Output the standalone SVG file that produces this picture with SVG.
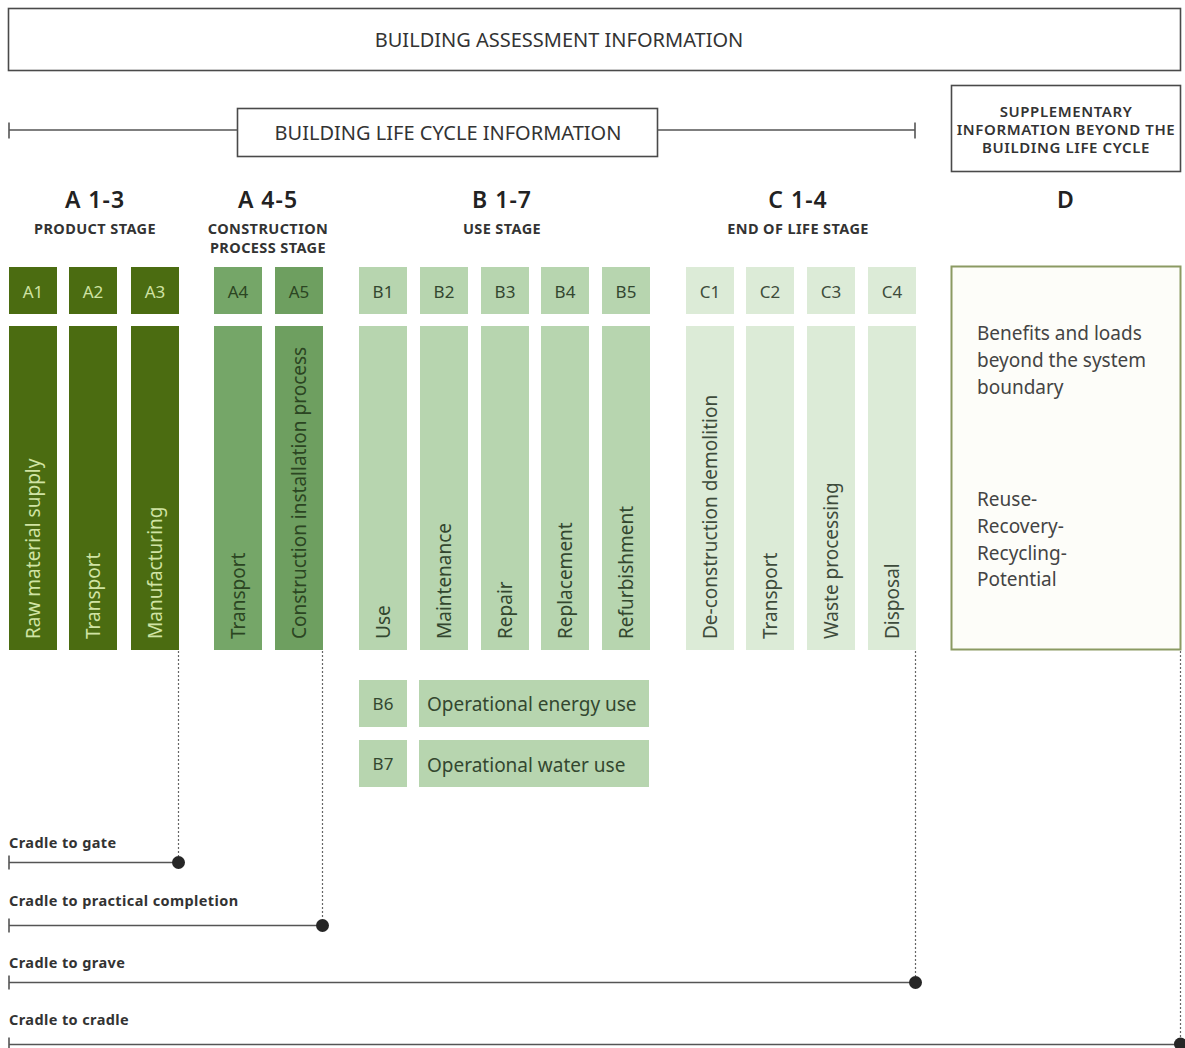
<svg xmlns="http://www.w3.org/2000/svg" width="1185" height="1048" viewBox="0 0 1185 1048">
<style>
.frame{fill:#fff;stroke:#4a4a4a;stroke-width:1.6}
.hdr{font-family:"Noto Sans",sans-serif;fill:#333;text-anchor:middle;font-size:20px}
.stg{font-family:"Noto Sans",sans-serif;font-weight:600;fill:#222;text-anchor:middle;font-size:23px;letter-spacing:1px}
.sub{font-family:"Noto Sans",sans-serif;font-weight:700;fill:#333;text-anchor:middle;font-size:14.5px;letter-spacing:0.4px}
.sup{font-family:"Noto Sans",sans-serif;font-weight:600;fill:#333;text-anchor:middle;font-size:15px;letter-spacing:0.6px}
.dk{fill:#4b6c11}
.md4{fill:#75a668}
.md5{fill:#6e9f60}
.lt{fill:#b7d5af}
.vl{fill:#dcebd7}
.lbl{font-family:"Noto Sans",sans-serif;font-size:17px;text-anchor:middle;dominant-baseline:central}
.vt{font-family:"Noto Sans",sans-serif;font-size:19px;dominant-baseline:central}
.tl{fill:#d0e3a3}
.td{fill:#2b4522}
.tb{fill:#33472f}
.tc{fill:#3e4b3b}
.body{font-family:"Noto Sans",sans-serif;font-size:19px;fill:#444}
.cr{font-family:"Noto Sans",sans-serif;font-size:14.5px;font-weight:700;fill:#333;letter-spacing:0.4px}
.ln{stroke:#555;stroke-width:1.6;fill:none}
.dot{stroke:#666;stroke-width:1.2;stroke-dasharray:2 2;fill:none}
.end{fill:#262626}
</style>

<g id="assessment">
<rect class="frame" x="8.5" y="8.5" width="1172" height="62"/>
<text class="hdr" x="559" y="47">BUILDING ASSESSMENT INFORMATION</text>
</g>

<g id="lifecycle">
<rect class="frame" x="237.5" y="108.5" width="420" height="48"/>
<text class="hdr" x="448" y="140" font-size="20.5">BUILDING LIFE CYCLE INFORMATION</text>
</g>

<g id="supplementary">
<rect class="frame" x="951.5" y="85.5" width="229" height="86"/>
<text class="sup" x="1066" y="117">SUPPLEMENTARY</text>
<text class="sup" x="1066" y="135">INFORMATION BEYOND THE</text>
<text class="sup" x="1066" y="153">BUILDING LIFE CYCLE</text>
</g>

<g id="stage-a13">
<text class="stg" x="95" y="208">A 1-3</text>
<text class="sub" x="95" y="234">PRODUCT STAGE</text>
</g>
<g id="stage-a45">
<text class="stg" x="268" y="208">A 4-5</text>
<text class="sub" x="268" y="234">CONSTRUCTION</text>
<text class="sub" x="268" y="253">PROCESS STAGE</text>
</g>
<g id="stage-b17">
<text class="stg" x="502" y="208">B 1-7</text>
<text class="sub" x="502" y="234">USE STAGE</text>
</g>
<g id="stage-c14">
<text class="stg" x="798" y="208">C 1-4</text>
<text class="sub" x="798" y="234">END OF LIFE STAGE</text>
</g>
<g id="stage-d">
<text class="stg" x="1066" y="208">D</text>
</g>

<g id="A1"><rect class="dk" x="9" y="267" width="48" height="47"/><text class="lbl tl" x="33" y="291">A1</text>
<rect class="dk" x="9" y="326" width="48" height="324"/><text class="vt tl" transform="translate(33,639) rotate(-90)">Raw material supply</text></g>
<g id="A2"><rect class="dk" x="69" y="267" width="48" height="47"/><text class="lbl tl" x="93" y="291">A2</text>
<rect class="dk" x="69" y="326" width="48" height="324"/><text class="vt tl" transform="translate(93,639) rotate(-90)">Transport</text></g>
<g id="A3"><rect class="dk" x="131" y="267" width="48" height="47"/><text class="lbl tl" x="155" y="291">A3</text>
<rect class="dk" x="131" y="326" width="48" height="324"/><text class="vt tl" transform="translate(155,639) rotate(-90)">Manufacturing</text></g>
<g id="A4"><rect class="md4" x="214" y="267" width="48" height="47"/><text class="lbl td" x="238" y="291">A4</text>
<rect class="md4" x="214" y="326" width="48" height="324"/><text class="vt td" transform="translate(238,639) rotate(-90)">Transport</text></g>
<g id="A5"><rect class="md5" x="275" y="267" width="48" height="47"/><text class="lbl td" x="299" y="291">A5</text>
<rect class="md5" x="275" y="326" width="48" height="324"/><text class="vt td" transform="translate(299,639) rotate(-90)">Construction installation process</text></g>

<g id="B1"><rect class="lt" x="359" y="267" width="48" height="47"/><text class="lbl tb" x="383" y="291">B1</text>
<rect class="lt" x="359" y="326" width="48" height="324"/><text class="vt tb" transform="translate(383,639) rotate(-90)">Use</text></g>
<g id="B2"><rect class="lt" x="420" y="267" width="48" height="47"/><text class="lbl tb" x="444" y="291">B2</text>
<rect class="lt" x="420" y="326" width="48" height="324"/><text class="vt tb" transform="translate(444,639) rotate(-90)">Maintenance</text></g>
<g id="B3"><rect class="lt" x="481" y="267" width="48" height="47"/><text class="lbl tb" x="505" y="291">B3</text>
<rect class="lt" x="481" y="326" width="48" height="324"/><text class="vt tb" transform="translate(505,639) rotate(-90)">Repair</text></g>
<g id="B4"><rect class="lt" x="541" y="267" width="48" height="47"/><text class="lbl tb" x="565" y="291">B4</text>
<rect class="lt" x="541" y="326" width="48" height="324"/><text class="vt tb" transform="translate(565,639) rotate(-90)">Replacement</text></g>
<g id="B5"><rect class="lt" x="602" y="267" width="48" height="47"/><text class="lbl tb" x="626" y="291">B5</text>
<rect class="lt" x="602" y="326" width="48" height="324"/><text class="vt tb" transform="translate(626,639) rotate(-90)">Refurbishment</text></g>
<g id="B6"><rect class="lt" x="359" y="680" width="48" height="47"/><text class="lbl tb" x="383" y="703">B6</text>
<rect class="lt" x="419" y="680" width="230" height="47"/><text class="body" x="427" y="711" style="fill:#33472f">Operational energy use</text></g>
<g id="B7"><rect class="lt" x="359" y="740" width="48" height="47"/><text class="lbl tb" x="383" y="763">B7</text>
<rect class="lt" x="419" y="740" width="230" height="47"/><text class="body" x="427" y="772" style="fill:#33472f">Operational water use</text></g>

<g id="C1"><rect class="vl" x="686" y="267" width="48" height="47"/><text class="lbl tc" x="710" y="291">C1</text>
<rect class="vl" x="686" y="326" width="48" height="324"/><text class="vt tc" transform="translate(710,639) rotate(-90)">De-construction demolition</text></g>
<g id="C2"><rect class="vl" x="746" y="267" width="48" height="47"/><text class="lbl tc" x="770" y="291">C2</text>
<rect class="vl" x="746" y="326" width="48" height="324"/><text class="vt tc" transform="translate(770,639) rotate(-90)">Transport</text></g>
<g id="C3"><rect class="vl" x="807" y="267" width="48" height="47"/><text class="lbl tc" x="831" y="291">C3</text>
<rect class="vl" x="807" y="326" width="48" height="324"/><text class="vt tc" transform="translate(831,639) rotate(-90)">Waste processing</text></g>
<g id="C4"><rect class="vl" x="868" y="267" width="48" height="47"/><text class="lbl tc" x="892" y="291">C4</text>
<rect class="vl" x="868" y="326" width="48" height="324"/><text class="vt tc" transform="translate(892,639) rotate(-90)">Disposal</text></g>

<g id="D">
<rect x="951.5" y="266.5" width="229" height="383" fill="#fdfdf9" stroke="#8b9a63" stroke-width="2"/>
<text class="body" x="977" y="340">Benefits and loads</text>
<text class="body" x="977" y="367">beyond the system</text>
<text class="body" x="977" y="394">boundary</text>
<text class="body" x="977" y="506">Reuse-</text>
<text class="body" x="977" y="533">Recovery-</text>
<text class="body" x="977" y="560">Recycling-</text>
<text class="body" x="977" y="586">Potential</text>
</g>

<g id="scopes">
<text class="cr" x="9" y="848">Cradle to gate</text>
<text class="cr" x="9" y="906">Cradle to practical completion</text>
<text class="cr" x="9" y="968">Cradle to grave</text>
<text class="cr" x="9" y="1025">Cradle to cradle</text>
</g>

<g id="connectors">
<path class="ln" d="M9 130 H237.5 M657.5 130 H915 M9 122.5 V138.5 M915 122.5 V138.5"/>
<path class="dot" d="M178.5 651 V856 M322.5 651 V919 M915.5 651 V976 M1180.5 651 V1038"/>
<path class="ln" d="M9 862.5 H178 M9 855.5 V869.5"/>
<path class="ln" d="M9 925.5 H322 M9 918.5 V932.5"/>
<path class="ln" d="M9 982.5 H915 M9 975.5 V989.5"/>
<path class="ln" d="M9 1044.5 H1180 M9 1037.5 V1051"/>
<circle class="end" cx="178.5" cy="862.5" r="6.5"/>
<circle class="end" cx="322.5" cy="925.5" r="6.5"/>
<circle class="end" cx="915.5" cy="982.5" r="6.5"/>
<circle class="end" cx="1180.5" cy="1044" r="6.5"/>
</g>
</svg>
